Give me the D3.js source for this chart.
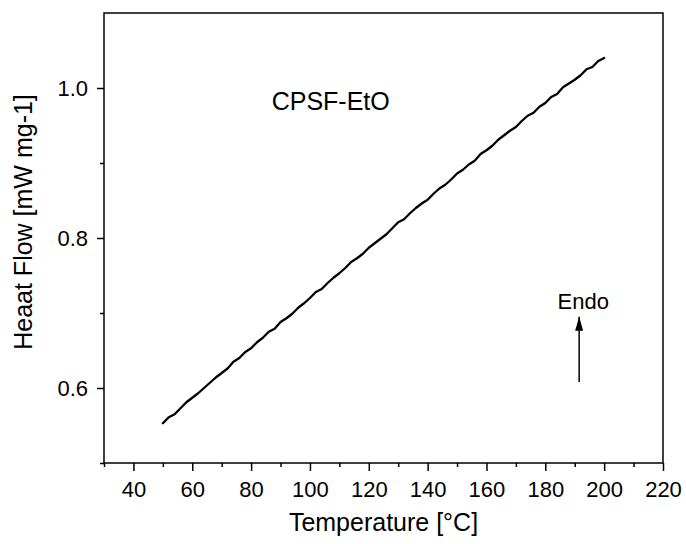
<!DOCTYPE html>
<html>
<head>
<meta charset="utf-8">
<script src="https://cdn.jsdelivr.net/npm/d3@7"></script>
<style>
  html, body { margin: 0; padding: 0; background: #fff; }
  svg { display: block; font-family: "Liberation Sans", Arial, sans-serif; }
</style>
</head>
<body>
<svg id="chart" width="686" height="544"></svg>
<script>
// ---- data ----
const temperature = [50,52,54,56,58,60,62,64,66,68,70,72,74,76,78,80,82,84,86,88,90,92,94,96,98,100,102,104,106,108,110,112,114,116,118,120,122,124,126,128,130,132,134,136,138,140,142,144,146,148,150,152,154,156,158,160,162,164,166,168,170,172,174,176,178,180,182,184,186,188,190,192,194,196,198,200];
const heatFlow = [0.553,0.561,0.565,0.573,0.581,0.587,0.593,0.600,0.607,0.614,0.620,0.626,0.635,0.640,0.648,0.653,0.661,0.667,0.675,0.679,0.688,0.693,0.699,0.707,0.713,0.720,0.728,0.732,0.740,0.747,0.753,0.760,0.768,0.773,0.779,0.787,0.793,0.799,0.805,0.813,0.821,0.825,0.833,0.840,0.846,0.851,0.859,0.866,0.871,0.878,0.886,0.891,0.898,0.903,0.912,0.917,0.923,0.931,0.937,0.943,0.948,0.956,0.963,0.967,0.975,0.980,0.988,0.992,1.001,1.006,1.011,1.017,1.025,1.028,1.036,1.040];
const xMajorTicks = [40,60,80,100,120,140,160,180,200,220];
const xMinorTicks = [30,50,70,90,110,130,150,170,190,210];
const yMajorTicks = [0.6,0.8,1.0];
const yMinorTicks = [0.5,0.7,0.9];
const xDomain = [30,220];
const yDomain = [0.5,1.1];
const sampleLabel = "CPSF-EtO";
const sampleLabelPos = [87, 0.971];
const endoLabel = "Endo";
const endoLabelPos = [192.9, 0.705];
const endoArrow = [191.5, 0.608, 0.695];
const xTitle = "Temperature [°C]";
const yTitle = "Heaat Flow [mW mg-1]";

// ---- layout ----
const svg = d3.select("#chart");
const L = 104, R = 663, T = 13, B = 463;
const x = d3.scaleLinear().domain(xDomain).range([L, R]);
const y = d3.scaleLinear().domain(yDomain).range([B, T]);

// frame
svg.append("rect").attr("x", L).attr("y", T).attr("width", R - L).attr("height", B - T)
  .attr("fill", "none").attr("stroke", "#000").attr("stroke-width", 1.5);

// x axis
const gx = svg.append("g").attr("transform", `translate(0,${B})`);
gx.call(d3.axisBottom(x).tickValues(xMajorTicks).tickSize(8).tickPadding(10).tickFormat(d3.format("d")));
const gxm = svg.append("g").attr("transform", `translate(0,${B})`);
gxm.call(d3.axisBottom(x).tickValues(xMinorTicks).tickSize(4).tickFormat(""));

// y axis
const gy = svg.append("g").attr("transform", `translate(${L},0)`);
gy.call(d3.axisLeft(y).tickValues(yMajorTicks).tickSize(7).tickPadding(9).tickFormat(d3.format(".1f")));
const gym = svg.append("g").attr("transform", `translate(${L},0)`);
gym.call(d3.axisLeft(y).tickValues(yMinorTicks).tickSize(4).tickFormat(""));

svg.selectAll(".domain").remove();
svg.selectAll(".tick line").attr("stroke", "#000").attr("stroke-width", 1.5);
svg.selectAll(".tick text").attr("fill", "#000").style("font-size", "22px")
  .style("font-family", '"Liberation Sans", Arial, sans-serif');

// curve
const data = temperature.map((t, i) => [t, heatFlow[i]]);
svg.append("path").datum(data)
  .attr("fill", "none").attr("stroke", "#000").attr("stroke-width", 2.3)
  .attr("stroke-linejoin", "round").attr("stroke-linecap", "round")
  .attr("d", d3.line().x(d => x(d[0])).y(d => y(d[1])));

// annotations
svg.append("text").attr("x", x(sampleLabelPos[0])).attr("y", y(sampleLabelPos[1]))
  .style("font-size", "25px").text(sampleLabel);
svg.append("text").attr("x", x(endoLabelPos[0])).attr("y", y(endoLabelPos[1]))
  .attr("text-anchor", "middle").style("font-size", "22px").text(endoLabel);

svg.append("defs").append("marker").attr("id", "ah")
  .attr("viewBox", "0 0 14 8").attr("refX", 14).attr("refY", 4)
  .attr("markerWidth", 14).attr("markerHeight", 8).attr("markerUnits", "userSpaceOnUse")
  .attr("preserveAspectRatio", "none")
  .attr("orient", "auto")
  .append("path").attr("d", "M0,0 L14,4 L0,8 Z").attr("fill", "#000");
svg.append("line")
  .attr("x1", x(endoArrow[0])).attr("y1", y(endoArrow[1]))
  .attr("x2", x(endoArrow[0])).attr("y2", y(endoArrow[2]))
  .attr("stroke", "#000").attr("stroke-width", 1.5).attr("marker-end", "url(#ah)");

// titles
svg.append("text").attr("x", (L + R) / 2).attr("y", 531).attr("text-anchor", "middle")
  .style("font-size", "25px").text(xTitle);
svg.append("text").attr("transform", `translate(31.5,222) rotate(-90)`).attr("text-anchor", "middle")
  .style("font-size", "25px").text(yTitle);
</script>
</body>
</html>
